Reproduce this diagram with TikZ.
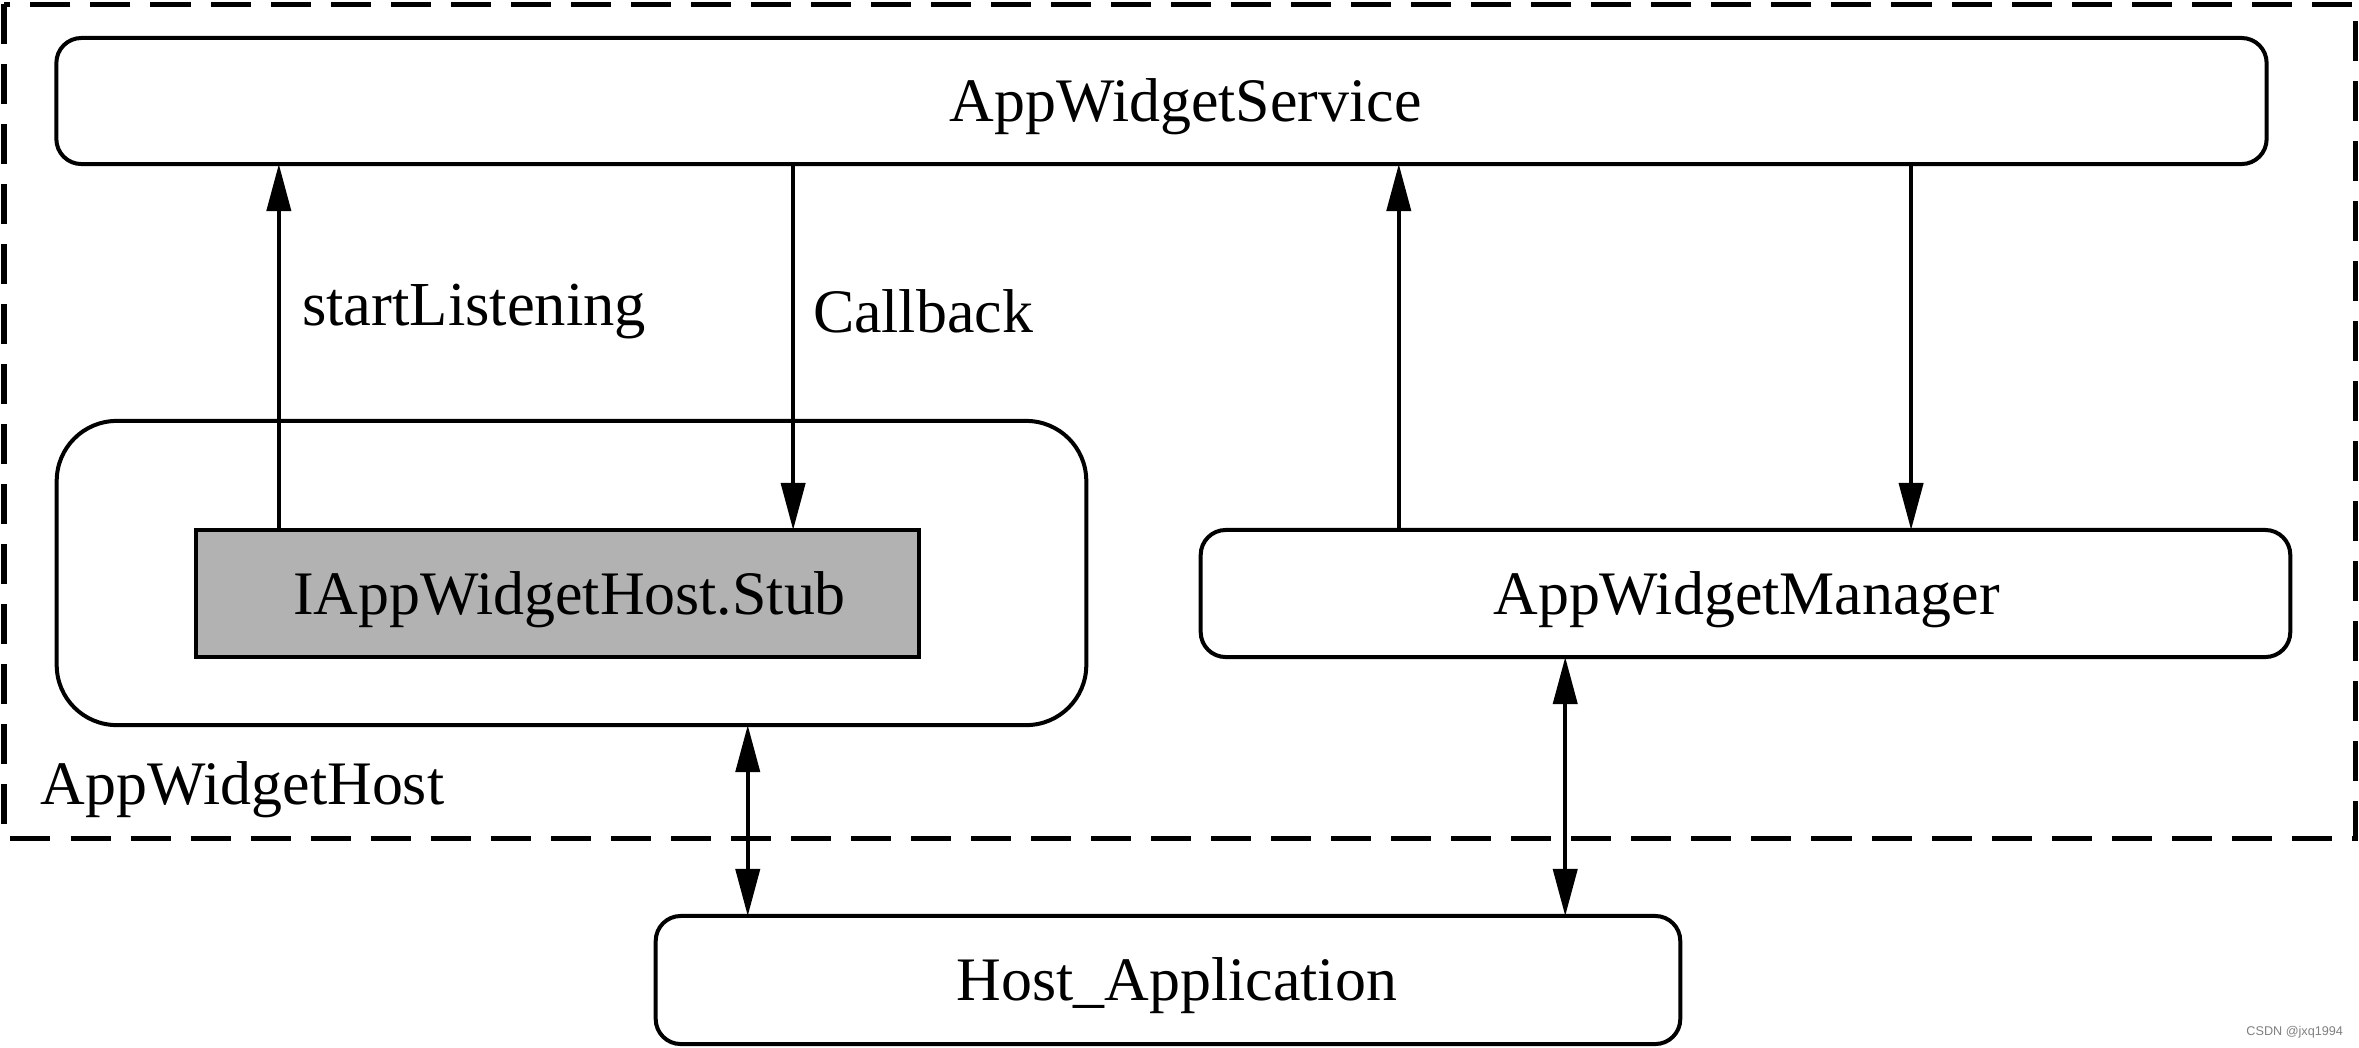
\documentclass[tikz,border=0pt]{standalone}
\usepackage{fontspec}
\setmainfont{Liberation Serif}
\newfontfamily\wmfont{Liberation Sans}
\usetikzlibrary{arrows.meta,calc}
\definecolor{stubgray}{HTML}{B2B2B2}
\begin{document}
\begin{tikzpicture}[x=0.01cm,y=-0.01cm,
  every node/.style={inner sep=0pt, outer sep=0pt},
  boxtxt/.style={font=\fontsize{17.6pt}{20pt}\selectfont},
  lbltxt/.style={font=\fontsize{17.8pt}{21pt}\selectfont},
  rbox/.style={draw, line width=0.04cm, rounded corners=0.25cm},
  conn/.style={line width=0.04cm, -{Triangle[length=0.47cm,width=0.24cm]}},
  dconn/.style={line width=0.04cm, {Triangle[length=0.47cm,width=0.24cm]}-{Triangle[length=0.47cm,width=0.24cm]}},
  frame/.style={draw, line width=0.05cm, dash pattern=on 0.4cm off 0.2cm}
]
\useasboundingbox[fill=white] (0,0) rectangle (2359,1047);

% dashed frame
\draw[frame] (4,4) rectangle (2355,838);

% nodes
\node[rbox, minimum width=22.09cm, minimum height=1.26cm,
  label={[boxtxt, xshift=0.24cm, yshift=-0.06cm]center:AppWidgetService}] (svc) at (1161.5,101) {};
\node[draw, line width=0.04cm, rounded corners=0.6cm, minimum width=10.29cm, minimum height=3.04cm] (host) at (571.5,573) {};
\node[draw, line width=0.04cm, fill=stubgray, minimum width=7.23cm, minimum height=1.27cm,
  label={[boxtxt, xshift=0.12cm, yshift=-0.06cm]center:IAppWidgetHost.Stub}] (stub) at (557.5,593.5) {};
\node[rbox, minimum width=10.89cm, minimum height=1.27cm,
  label={[boxtxt, xshift=0.01cm, yshift=-0.06cm]center:AppWidgetManager}] (mgr) at (1745.5,593.5) {};
\node[rbox, minimum width=10.24cm, minimum height=1.28cm,
  label={[boxtxt, xshift=0.09cm, yshift=-0.06cm]center:Host\_Application}] (app) at (1168,980) {};

% labels
\node[lbltxt, anchor=base west] (lstart) at (302,325) {startListening};
\node[boxtxt, anchor=base west] (lcall) at (813,332) {Callback};
\node[boxtxt, anchor=base west] (lhost) at (41,804) {AppWidgetHost};
\node[anchor=base east, text=gray, font=\wmfont\fontsize{3.6pt}{4pt}\selectfont] (wm) at (2343,1035) {CSDN @jxq1994};

% connectors
\coordinate (s1) at ([xshift=0.83cm]stub.north west);
\coordinate (s2) at ([xshift=5.97cm]stub.north west);
\coordinate (m1) at ([xshift=1.98cm]mgr.north west);
\coordinate (m2) at ([xshift=7.10cm]mgr.north west);
\coordinate (a1) at ([xshift=0.92cm]app.north west);
\coordinate (a2) at ([xshift=9.09cm]app.north west);

\draw[conn] (s1) -- (s1 |- svc.south);
\draw[conn] (s2 |- svc.south) -- (s2);
\draw[conn] (m1) -- (m1 |- svc.south);
\draw[conn] (m2 |- svc.south) -- (m2);
\draw[dconn] (a1 |- host.south) -- (a1);
\draw[dconn] (a2 |- mgr.south) -- (a2);
\end{tikzpicture}
\end{document}
